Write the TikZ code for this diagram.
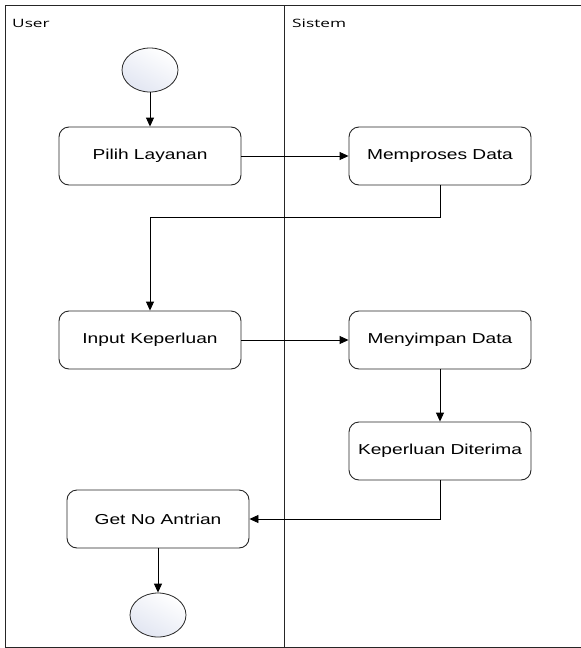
\documentclass[tikz,border=0pt]{standalone}
\usepackage{fontspec}
\setmainfont[FakeStretch=1.33]{Liberation Sans}
\newfontfamily\lanefont[FakeStretch=1.5]{Open Sans}
\usetikzlibrary{arrows.meta,shapes.geometric}
\definecolor{termfill}{RGB}{226,230,242}
\tikzset{
  act/.style={draw=black!85, line width=0.9pt, rounded corners=10pt, fill=white,
    minimum width=182pt, minimum height=58pt, inner sep=0pt,
    font=\fontsize{14.4}{16}\selectfont},
  terminal/.style={draw=black!85, line width=0.8pt, ellipse, minimum width=56pt,
    minimum height=44pt, inner sep=0pt, shading=axis, top color=white,
    bottom color=termfill, shading angle=-30},
  flow/.style={line width=0.9pt, -{Triangle[length=9pt,width=8pt]}},
  lane/.style={line width=0.8pt, draw=black!85},
  lanelabel/.style={anchor=west, inner sep=0pt, font=\lanefont\fontsize{11.5}{13}\selectfont}
}
\begin{document}
\begin{tikzpicture}[x=1pt, y=-1pt]
  \useasboundingbox (0,0) rectangle (581,648);
  % swimlane frame (open on the right)
  \draw[lane] (590,5) -- (5,5) -- (5,647) -- (590,647);
  \draw[lane] (284,5) -- (284,647);
  \node[lanelabel] (luser) at (12,23) {User};
  \node[lanelabel] (lsistem) at (292,23) {Sistem};
  % activities
  \node[terminal] (start) at (150,70) {};
  \node[act] (pilih) at (150,156) {\raisebox{-1.5pt}{Pilih Layanan}};
  \node[act] (proses) at (440,156) {\raisebox{-1.5pt}{Memproses Data}};
  \node[act] (input) at (150,340) {\raisebox{-1.5pt}{Input Keperluan}};
  \node[act] (simpan) at (440,340) {\raisebox{-1.5pt}{Menyimpan Data}};
  \node[act] (terima) at (440,451) {\raisebox{-1.5pt}{Keperluan Diterima}};
  \node[act] (antri) at (158,519) {\raisebox{-1.5pt}{Get No Antrian}};
  \node[terminal] (finish) at (158,615) {};
  % control flow
  \draw[flow] (start) -- (pilih);
  \draw[flow] (pilih.east) -- (proses.west);
  \draw[flow] (proses.south) -- ++(0,32) -| (input.north);
  \draw[flow] (input.east) -- (simpan.west);
  \draw[flow] (simpan) -- (terima);
  \draw[flow] (terima.south) |- (antri.east);
  \draw[flow] (antri) -- (finish);
\end{tikzpicture}
\end{document}
